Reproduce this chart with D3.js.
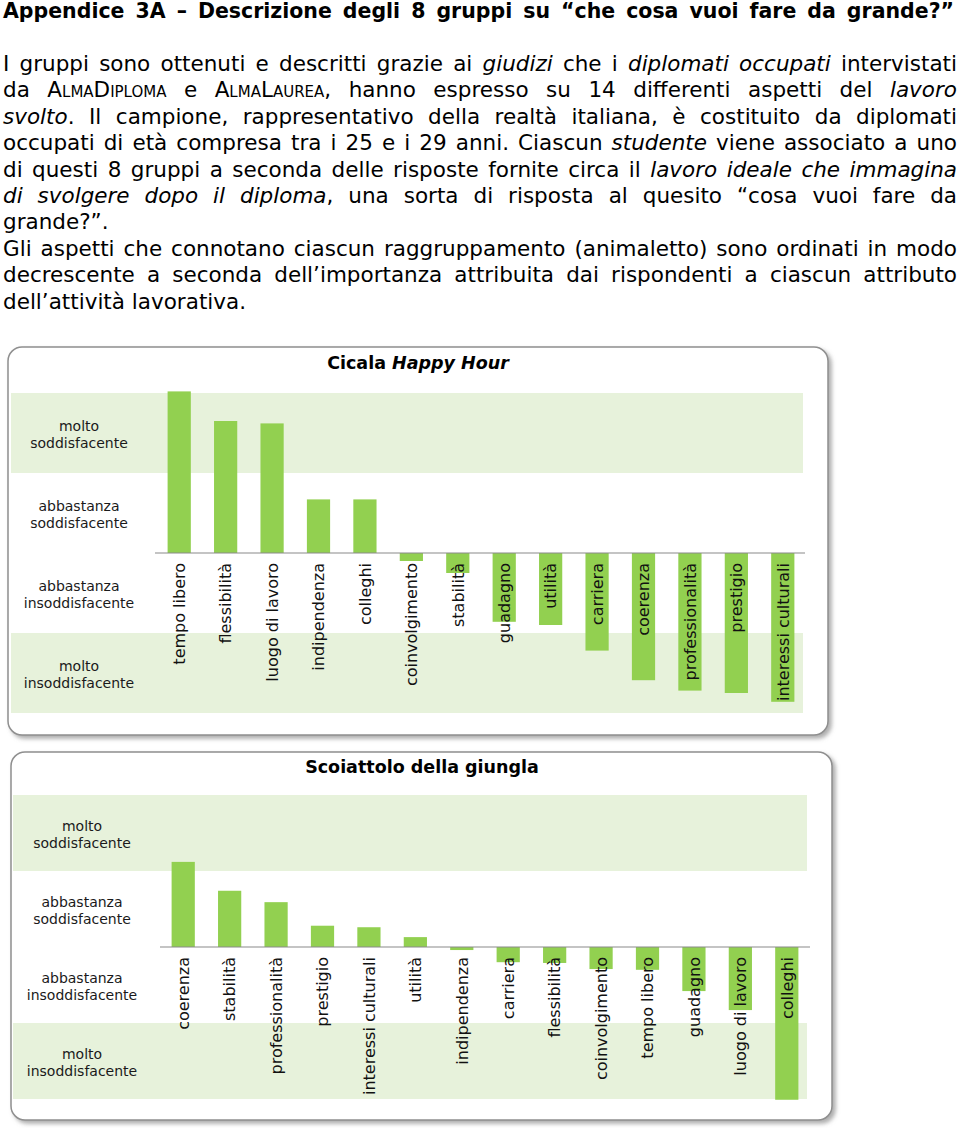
<!DOCTYPE html>
<html>
<head>
<meta charset="utf-8">
<script src="https://cdn.jsdelivr.net/npm/d3@7"></script>
<style>
  body { margin: 0; background: #fff; }
  text { font-family: "DejaVu Sans", Verdana, sans-serif; }
</style>
</head>
<body>
<div id="page"></div>
<script>
// --- data ---------------------------------------------------------------
var titleText = "Appendice 3A – Descrizione degli 8 gruppi su “che cosa vuoi fare da grande?”";

// * = italic, ^ = small caps
var introLines = [
  "I gruppi sono ottenuti e descritti grazie ai *giudizi* che i *diplomati occupati* intervistati",
  "da ^AlmaDiploma^ e ^AlmaLaurea^, hanno espresso su 14 differenti aspetti del *lavoro*",
  "*svolto*. Il campione, rappresentativo della realtà italiana, è costituito da diplomati",
  "occupati di età compresa tra i 25 e i 29 anni. Ciascun *studente* viene associato a uno",
  "di questi 8 gruppi a seconda delle risposte fornite circa il *lavoro ideale che immagina*",
  "*di svolgere dopo il diploma*, una sorta di risposta al quesito “cosa vuoi fare da",
  "grande?”.",
  "Gli aspetti che connotano ciascun raggruppamento (animaletto) sono ordinati in modo",
  "decrescente a seconda dell’importanza attribuita dai rispondenti a ciascun attributo",
  "dell’attività lavorativa."
];
var introJustify = [true, true, true, true, true, true, false, true, true, false];

var levelLabels = [
  ["molto", "soddisfacente"],
  ["abbastanza", "soddisfacente"],
  ["abbastanza", "insoddisfacente"],
  ["molto", "insoddisfacente"]
];

var cicalaCats = ["tempo libero", "flessibilità", "luogo di lavoro", "indipendenza", "colleghi",
  "coinvolgimento", "stabilità", "guadagno", "utilità", "carriera", "coerenza",
  "professionalità", "prestigio", "interessi culturali"];
var cicalaVals = [2.02, 1.65, 1.62, 0.67, 0.67, -0.10, -0.25, -0.86, -0.90, -1.22, -1.59, -1.72, -1.75, -1.86];

var scoiattoloCats = ["coerenza", "stabilità", "professionalità", "prestigio", "interessi culturali",
  "utilità", "indipendenza", "carriera", "flessibilità", "coinvolgimento", "tempo libero",
  "guadagno", "luogo di lavoro", "colleghi"];
var scoiattoloVals = [1.12, 0.74, 0.59, 0.28, 0.26, 0.13, -0.04, -0.20, -0.21, -0.29, -0.30, -0.58, -0.83, -2.01];

// --- page ---------------------------------------------------------------
var W = 960, H = 1128;
var svg = d3.select("#page").append("svg")
    .attr("width", W)
    .attr("height", H);

var defs = svg.append("defs");
defs.append("filter")
    .attr("id", "shadow")
    .attr("x", "-5%").attr("y", "-5%")
    .attr("width", "110%").attr("height", "115%")
  .append("feDropShadow")
    .attr("dx", 3).attr("dy", 3)
    .attr("stdDeviation", 2)
    .attr("flood-color", "#777")
    .attr("flood-opacity", 0.6);

// split a marked-up line into words made of styled segments
function parseWords(line) {
  var words = [], cur = [], it = false, sc = false, buf = "";
  function flush() { if (buf) { cur.push({t: buf, it: it, sc: sc}); buf = ""; } }
  for (var i = 0; i < line.length; i++) {
    var ch = line[i];
    if (ch === "*") { flush(); it = !it; }
    else if (ch === "^") { flush(); sc = !sc; }
    else if (ch === " ") { flush(); if (cur.length) words.push(cur); cur = []; }
    else buf += ch;
  }
  flush();
  if (cur.length) words.push(cur);
  return words;
}

function setLine(line, y, x0, x1, justify, size, weight) {
  var words = parseWords(line);
  var nodes = words.map(function(w) {
    var t = svg.append("text")
        .attr("y", y)
        .attr("font-size", size)
        .attr("font-weight", weight || null)
        .attr("fill", "#000");
    w.forEach(function(s) {
      t.append("tspan")
          .attr("font-style", s.it ? "italic" : null)
          .attr("font-variant", s.sc ? "small-caps" : null)
          .text(s.t);
    });
    return t;
  });
  var widths = nodes.map(function(n) { return n.node().getComputedTextLength(); });
  var total = d3.sum(widths);
  var gap = justify && nodes.length > 1 ? (x1 - x0 - total) / (nodes.length - 1) : size * 0.32;
  var x = x0;
  nodes.forEach(function(n, i) {
    n.attr("x", x);
    x += widths[i] + gap;
  });
}

setLine(titleText, 18, 3, 954, true, 20.5, "bold");
introLines.forEach(function(l, i) {
  setLine(l, 71 + i * 26.4, 3, 957, introJustify[i], 21.5);
});

// --- charts -------------------------------------------------------------
function drawChart(cfg) {
  var g = svg.append("g");

  g.append("rect")
      .attr("x", cfg.box[0]).attr("y", cfg.box[1])
      .attr("width", cfg.box[2] - cfg.box[0])
      .attr("height", cfg.box[3] - cfg.box[1])
      .attr("rx", 14).attr("ry", 14)
      .attr("fill", "#fff")
      .attr("stroke", "#8f8f8f")
      .attr("stroke-width", 1.5)
      .attr("filter", "url(#shadow)");

  var title = g.append("text")
      .attr("x", cfg.titleX)
      .attr("y", cfg.titleY)
      .attr("text-anchor", "middle")
      .attr("font-size", 17.5)
      .attr("font-weight", "bold");
  title.append("tspan").text(cfg.title[0]);
  if (cfg.title[1]) title.append("tspan").attr("font-style", "italic").text(" " + cfg.title[1]);

  var y = d3.scaleLinear().domain([-2, 2]).range([cfg.bottom, cfg.top]);
  var x = d3.scaleBand()
      .domain(cfg.cats)
      .range(cfg.xRange)
      .paddingInner(0.5)
      .paddingOuter(0.25);

  // level bands (2..1 green, -1..-2 green)
  var bands = [[2, 1], [1, 0], [0, -1], [-1, -2]];
  g.selectAll(".band")
      .data(bands)
      .enter().append("rect")
      .attr("class", "band")
      .attr("x", cfg.bandX[0])
      .attr("width", cfg.bandX[1] - cfg.bandX[0])
      .attr("y", function(d) { return y(d[0]); })
      .attr("height", function(d) { return y(d[1]) - y(d[0]); })
      .attr("fill", function(d, i) { return i === 0 || i === 3 ? "#e7f2db" : "#fff"; });

  var lab = g.selectAll(".lev")
      .data(bands)
      .enter().append("text")
      .attr("class", "lev")
      .attr("text-anchor", "middle")
      .attr("font-size", 14)
      .attr("fill", "#1a1a1a");
  lab.each(function(d, i) {
    var cy = (y(d[0]) + y(d[1])) / 2;
    var t = d3.select(this);
    t.append("tspan").attr("x", cfg.labelX).attr("y", cy - 2).text(levelLabels[i][0]);
    t.append("tspan").attr("x", cfg.labelX).attr("y", cy + 15).text(levelLabels[i][1]);
  });

  g.selectAll(".bar")
      .data(cfg.vals)
      .enter().append("rect")
      .attr("class", "bar")
      .attr("x", function(d, i) { return x(cfg.cats[i]); })
      .attr("width", x.bandwidth())
      .attr("y", function(d) { return y(Math.max(0, d)); })
      .attr("height", function(d) { return Math.abs(y(d) - y(0)); })
      .attr("fill", "#92d050");

  g.append("line")
      .attr("x1", cfg.axisX[0]).attr("x2", cfg.axisX[1])
      .attr("y1", y(0)).attr("y2", y(0))
      .attr("stroke", "#8a8a8a")
      .attr("stroke-width", 1.2);

  g.selectAll(".cat")
      .data(cfg.cats)
      .enter().append("text")
      .attr("class", "cat")
      .attr("font-size", 16)
      .attr("fill", "#111")
      .attr("text-anchor", "end")
      .attr("dy", "0.36em")
      .attr("transform", function(d) {
        return "translate(" + (x(d) + x.bandwidth() / 2) + "," + (y(0) + 10) + ") rotate(-90)";
      })
      .text(function(d) { return d; });
}

drawChart({
  title: ["Cicala", "Happy Hour"],
  titleX: 418, titleY: 369,
  box: [8, 347, 828, 735],
  top: 393, bottom: 713,
  bandX: [11, 803],
  axisX: [155, 805],
  xRange: [156, 806],
  labelX: 79,
  cats: cicalaCats,
  vals: cicalaVals
});

drawChart({
  title: ["Scoiattolo della giungla"],
  titleX: 422, titleY: 773,
  box: [11, 752, 832, 1120],
  top: 795, bottom: 1099,
  bandX: [13, 807],
  axisX: [160, 810],
  xRange: [160, 810],
  labelX: 82,
  cats: scoiattoloCats,
  vals: scoiattoloVals
});
</script>
</body>
</html>
